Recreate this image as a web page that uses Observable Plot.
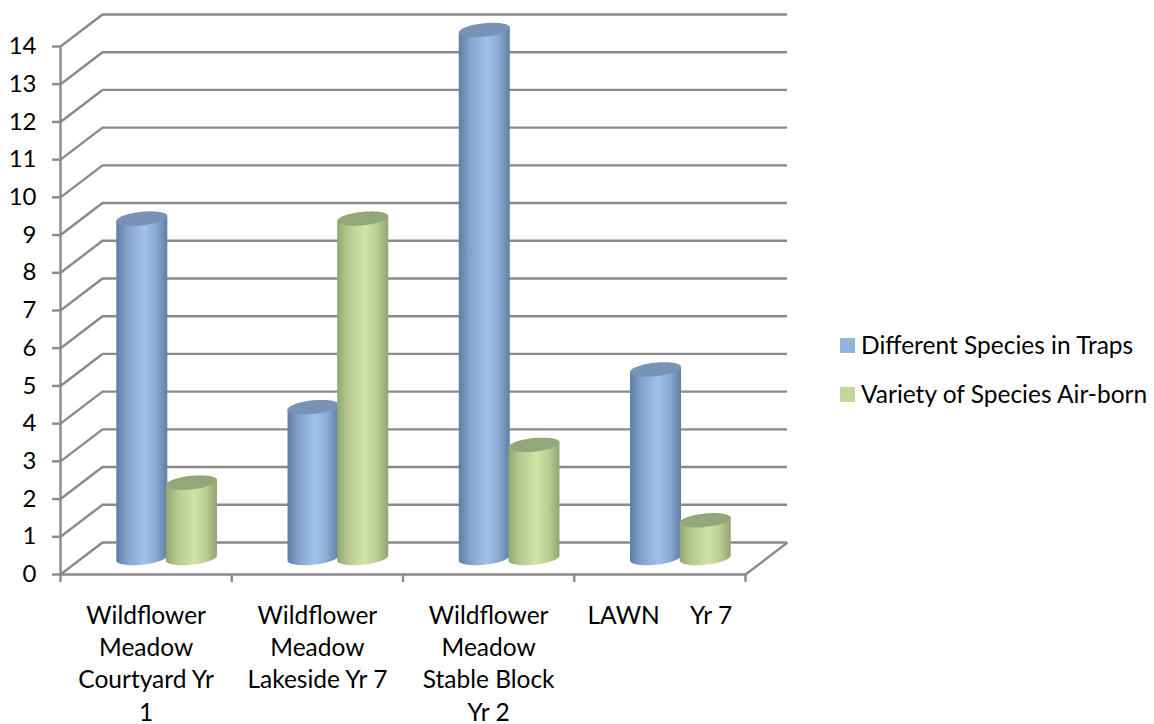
<!DOCTYPE html>
<html>
<head>
<meta charset="utf-8">
<script src="https://cdn.jsdelivr.net/npm/d3@7"></script>
<script src="https://cdn.jsdelivr.net/npm/@observablehq/plot@0.6"></script>
<style>
  html, body { margin: 0; background: #fff; }
  #chart { position: relative; width: 1154px; height: 724px; font-family: Lato, sans-serif; color: #000; }
  #chart svg { display: block; white-space: pre; }
  .key { position: absolute; left: 840px; font-size: 24.5px; line-height: 28px; display: flex; align-items: center; white-space: nowrap; }
  .key i { width: 15px; height: 15px; margin-right: 6px; display: block; }
</style>
</head>
<body>
<div id="chart"></div>
<script>
const categories = [
  "Wildflower\nMeadow\nCourtyard Yr\n1",
  "Wildflower\nMeadow\nLakeside Yr 7",
  "Wildflower\nMeadow\nStable Block\nYr 2",
  "LAWN     Yr 7"
];
const speciesInTraps = [9, 4, 14, 5];
const speciesAirborn = [2, 9, 3, 1];
const seriesNames = ["Different Species in Traps", "Variety of Species Air-born"];
const valueTicks = d3.range(0, 15);

// Floor depth of the 3-D box, in axis units (category widths, value steps)
const depthX = 42 / 171.25;
const depthY = 32 / 37.71;
const axisGrey = "#8a8a8a";
const halfBar = 0.149;     // cylinder radius along x
const capRadius = 0.18;    // cylinder cap half-height in value units
const capTilt = 0.066;     // rise of the cap from its centre to its right edge

// Outline of one cylinder as an area: one row per step across its width.
// Each cylinder stands halfway back on the floor.
const steps = d3.range(-20, 21).map(k => Math.sin(k / 20 * Math.PI / 2));
const outline = (values, offset) => values.flatMap((v, i) => steps.map(u => {
  const centre = i + 0.5 + offset + depthX / 2;
  const tilt = u * capTilt;
  const round = capRadius * Math.sqrt(Math.max(0, 1 - u * u));
  const base = depthY / 2;
  const top = v + depthY / 2;
  return {
    bar: i,
    x: centre + u * halfBar,
    bodyLow: base + tilt - round,
    bodyHigh: top + tilt,
    capLow: top + tilt - round,
    capHigh: top + tilt + round
  };
}));
const blueBars = outline(speciesInTraps, -0.145);
const greenBars = outline(speciesAirborn, 0.145);

// Cylinder shading as horizontal gradients
const gradient = (id, stops) => `<linearGradient id="${id}" x1="0" x2="1" y1="0" y2="0">${
  stops.map(([o, c]) => `<stop offset="${o}" stop-color="${c}"/>`).join("")}</linearGradient>`;
const defs = () => {
  const g = document.createElementNS("http://www.w3.org/2000/svg", "defs");
  g.innerHTML =
    gradient("shadeBlue", [[0, "#5f7da3"], [0.22, "#83a3cc"], [0.55, "#a0c1ea"], [0.78, "#8baad2"], [1, "#617ea3"]]) +
    gradient("shadeGreen", [[0, "#92a673"], [0.22, "#b6ca8e"], [0.55, "#d1e3a5"], [0.78, "#bbce94"], [1, "#92a572"]]);
  return g;
};

const cylinderMarks = (rows, bodyFill, capFill) => [
  Plot.areaY(rows, {x: "x", y1: "bodyLow", y2: "bodyHigh", z: "bar", fill: bodyFill}),
  Plot.areaY(rows, {x: "x", y1: "capLow", y2: "capHigh", z: "bar", fill: capFill})
];

const plot = Plot.plot({
  width: 1154,
  height: 724,
  margin: 0,
  style: {fontFamily: "Lato, sans-serif", fontSize: "24px", color: "#000", background: "transparent", overflow: "visible"},
  x: {type: "linear", domain: [0, 4], range: [60, 745], axis: null},
  y: {type: "linear", domain: [0, 14], range: [574, 46], axis: null},
  marks: [
    defs,
    // back wall gridlines
    Plot.ruleY(valueTicks, {y: d => d + depthY, x1: depthX, x2: 4 + depthX, stroke: axisGrey, strokeWidth: 2.4}),
    // side wall gridlines
    Plot.link(valueTicks, {x1: 0, y1: d => d, x2: depthX, y2: d => d + depthY, stroke: axisGrey, strokeWidth: 2.4}),
    // floor edge at the right
    Plot.link([0], {x1: 4, y1: 0, x2: 4 + depthX, y2: depthY, stroke: axisGrey, strokeWidth: 2.4}),
    // axes
    Plot.ruleX([0], {y1: 0, y2: 14, stroke: axisGrey, strokeWidth: 2.4}),
    Plot.ruleY([0], {x1: 0, x2: 4, stroke: axisGrey, strokeWidth: 2.4}),
    Plot.axisY({ticks: valueTicks, tickFormat: d => d, tickSize: 8, tickPadding: 16, stroke: axisGrey, strokeWidth: 2.4, fill: "#000", fontSize: 24, anchor: "left", x: 0, label: null}),
    Plot.axisX({ticks: d3.range(0, 5), tickFormat: () => "", tickSize: 8, stroke: axisGrey, strokeWidth: 2.4, anchor: "bottom", y: 0, label: null}),
    ...cylinderMarks(blueBars, "url(#shadeBlue)", "#7893b6"),
    ...cylinderMarks(greenBars, "url(#shadeGreen)", "#93a878"),
    // category labels under the floor
    Plot.text(categories, {
      x: (d, i) => i + 0.5,
      y: 0,
      text: d => d,
      dy: 27,
      lineAnchor: "top",
      lineHeight: 1.31,
      fontSize: 24.5,
      fill: "#000"
    })
  ]
});

const chart = document.getElementById("chart");
chart.appendChild(plot);

// Legend to the right of the box
[[seriesNames[0], "#94b3da", 331], [seriesNames[1], "#c4d69c", 380]].forEach(([name, colour, top]) => {
  const row = document.createElement("div");
  row.className = "key";
  row.style.top = top + "px";
  const swatch = document.createElement("i");
  swatch.style.background = colour;
  row.append(swatch, document.createTextNode(name));
  chart.appendChild(row);
});
</script>
</body>
</html>
